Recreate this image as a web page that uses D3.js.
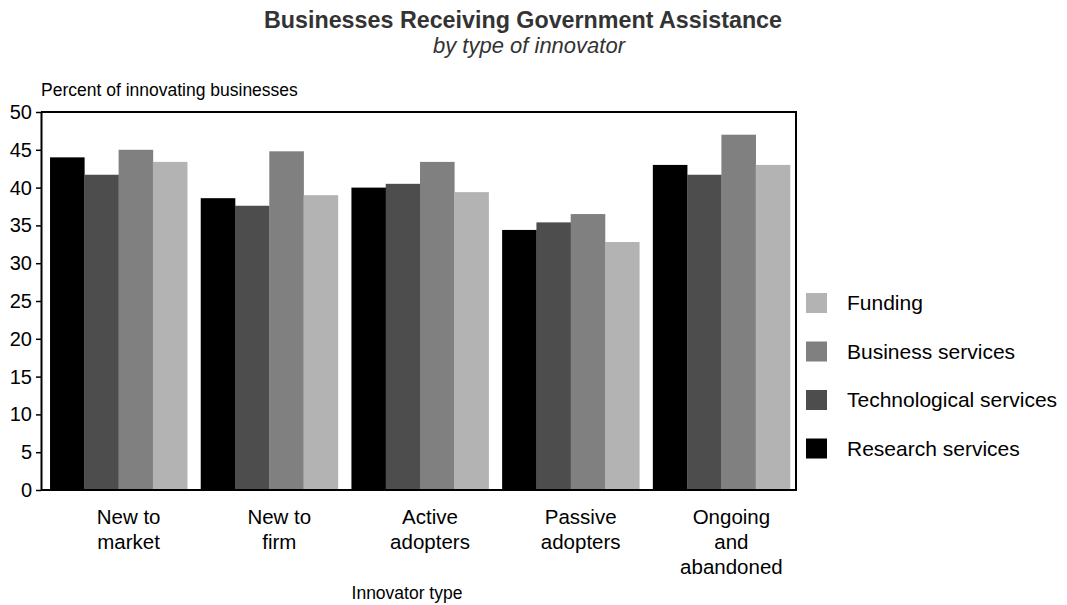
<!DOCTYPE html>
<html>
<head>
<meta charset="utf-8">
<script src="https://cdn.jsdelivr.net/npm/d3@7"></script>
<style>
  html, body { margin: 0; padding: 0; background: #fff; }
  svg { display: block; font-family: "Liberation Sans", Arial, sans-serif; }
</style>
</head>
<body>
<svg id="chart" width="1067" height="605"></svg>
<script>
// ---- Data ----
const categories = [
  ["New to", "market"],
  ["New to", "firm"],
  ["Active", "adopters"],
  ["Passive", "adopters"],
  ["Ongoing", "and", "abandoned"]
];
const seriesNames = ["Research services", "Technological services", "Business services", "Funding"];
const researchServices      = [44.0, 38.6, 40.0, 34.4, 43.0];
const technologicalServices = [41.7, 37.6, 40.5, 35.4, 41.7];
const businessServices      = [45.0, 44.8, 43.4, 36.5, 47.0];
const funding               = [43.4, 39.0, 39.4, 32.8, 43.0];
const yTicks = [0, 5, 10, 15, 20, 25, 30, 35, 40, 45, 50];
const legendOrder = ["Funding", "Business services", "Technological services", "Research services"];

const seriesValues = [researchServices, technologicalServices, businessServices, funding];
const colors = ["#000000", "#4d4d4d", "#808080", "#b3b3b3"];
const catKeys = categories.map(c => c.join(" "));

// ---- Layout ----
const svg = d3.select("#chart");
const plot = { left: 41, right: 796, top: 112, bottom: 490 };

const x0 = d3.scaleBand().domain(catKeys).range([44, 796]).paddingInner(0.09).paddingOuter(0.04);
const x1 = d3.scaleBand().domain(seriesNames).range([0, x0.bandwidth()]);
const y = d3.scaleLinear().domain([0, 50]).range([plot.bottom, plot.top]);
const color = d3.scaleOrdinal().domain(seriesNames).range(colors);

// Bars
const groups = svg.append("g").selectAll("g")
  .data(catKeys)
  .join("g")
  .attr("transform", d => `translate(${x0(d)},0)`);

groups.selectAll("rect")
  .data((d, i) => seriesNames.map((s, j) => ({ s, v: seriesValues[j][i] })))
  .join("rect")
  .attr("x", d => x1(d.s))
  .attr("y", d => y(d.v))
  .attr("width", x1.bandwidth() + 0.3)
  .attr("height", d => y(0) - y(d.v))
  .attr("fill", d => color(d.s));

// Frame (top, right, bottom)
svg.append("line").attr("x1", plot.left).attr("x2", plot.right + 1)
  .attr("y1", plot.top).attr("y2", plot.top)
  .attr("stroke", "#000").attr("stroke-width", 2);
svg.append("line").attr("x1", plot.right).attr("x2", plot.right)
  .attr("y1", plot.top).attr("y2", plot.bottom)
  .attr("stroke", "#000").attr("stroke-width", 2);
svg.append("line").attr("x1", plot.left).attr("x2", plot.right + 1)
  .attr("y1", plot.bottom).attr("y2", plot.bottom)
  .attr("stroke", "#000").attr("stroke-width", 2);

// Y axis
const yAxis = svg.append("g")
  .attr("transform", `translate(${plot.left},0)`)
  .call(d3.axisLeft(y).tickValues(yTicks).tickSize(5).tickPadding(4).tickSizeOuter(0));
yAxis.select(".domain").attr("stroke", "#000").attr("stroke-width", 2);
yAxis.selectAll(".tick line").attr("stroke", "#000").attr("stroke-width", 1.5);
yAxis.selectAll(".tick text")
  .attr("font-size", 20).attr("fill", "#000")
  .attr("font-family", "'Liberation Sans', Arial, sans-serif");

// Y axis title
svg.append("text")
  .attr("x", 41).attr("y", 96)
  .attr("font-size", 17.5).attr("fill", "#000")
  .text("Percent of innovating businesses");

// Category labels
const catLabels = svg.append("g").selectAll("text")
  .data(categories)
  .join("text")
  .attr("x", (d, i) => x0(catKeys[i]) + x0.bandwidth() / 2 + 10)
  .attr("y", 524)
  .attr("text-anchor", "middle")
  .attr("font-size", 20.5).attr("fill", "#000");
catLabels.selectAll("tspan")
  .data(d => d)
  .join("tspan")
  .attr("x", function () { return d3.select(this.parentNode).attr("x"); })
  .attr("dy", (d, i) => i === 0 ? 0 : 25)
  .text(d => d);

// X axis title
svg.append("text")
  .attr("x", 407).attr("y", 599)
  .attr("text-anchor", "middle")
  .attr("font-size", 17.5).attr("fill", "#000")
  .text("Innovator type");

// Legend
const legend = svg.append("g").selectAll("g")
  .data(legendOrder)
  .join("g")
  .attr("transform", (d, i) => `translate(806,${293 + i * 48.5})`);
legend.append("rect")
  .attr("width", 21).attr("height", 20)
  .attr("fill", d => color(d));
legend.append("text")
  .attr("x", 41).attr("y", 17)
  .attr("font-size", 21).attr("fill", "#000")
  .text(d => d);

// Titles
svg.append("text")
  .attr("x", 523).attr("y", 28)
  .attr("text-anchor", "middle")
  .attr("font-family", "'Liberation Sans Narrow', 'Liberation Sans', Arial, sans-serif")
  .attr("font-weight", "bold")
  .attr("font-size", 24).attr("fill", "#333")
  .attr("textLength", 518).attr("lengthAdjust", "spacingAndGlyphs")
  .text("Businesses Receiving Government Assistance");
svg.append("text")
  .attr("x", 529).attr("y", 53)
  .attr("text-anchor", "middle")
  .attr("font-family", "'Liberation Sans Narrow', 'Liberation Sans', Arial, sans-serif")
  .attr("font-style", "italic")
  .attr("font-size", 22).attr("fill", "#333")
  .attr("textLength", 192).attr("lengthAdjust", "spacingAndGlyphs")
  .text("by type of innovator");
</script>
</body>
</html>
